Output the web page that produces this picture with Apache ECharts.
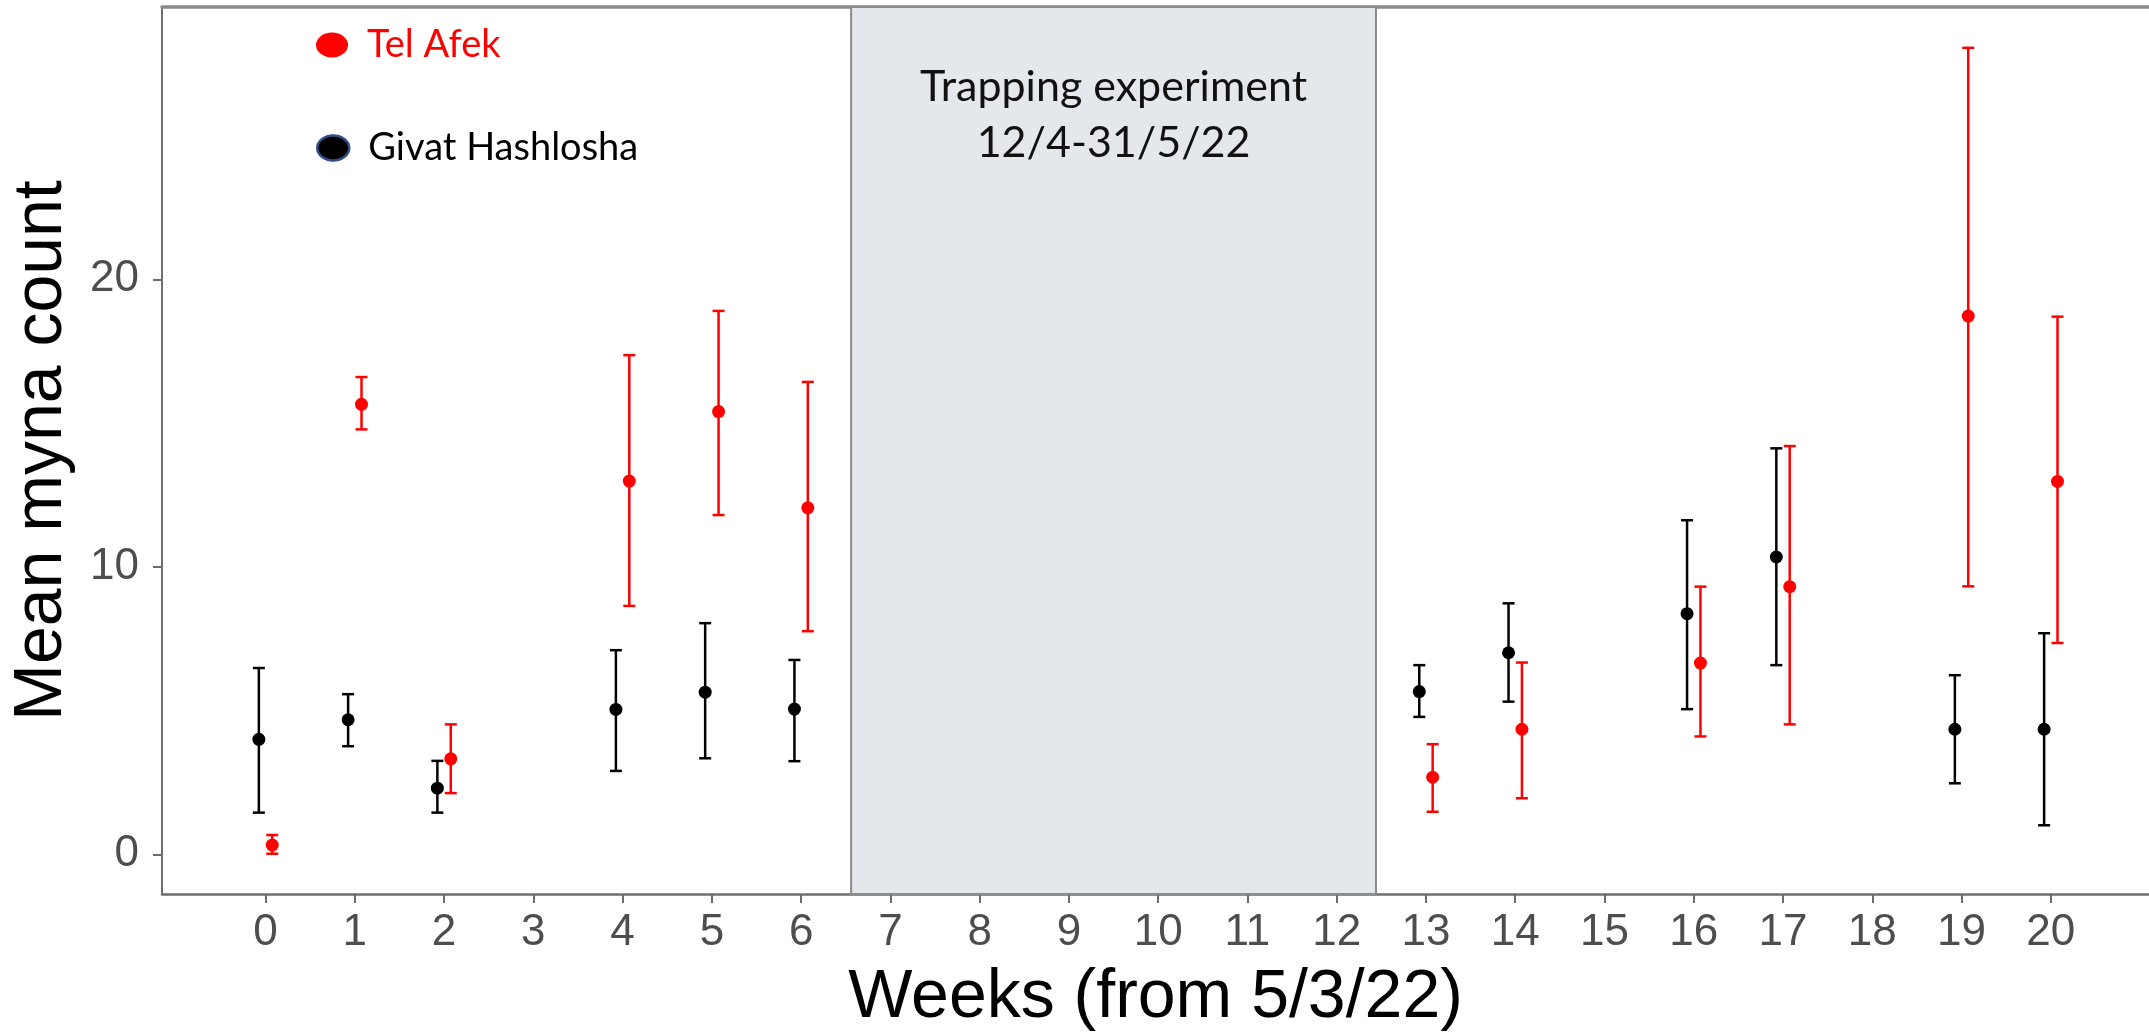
<!DOCTYPE html>
<html>
<head>
<meta charset="utf-8">
<script src="https://cdn.jsdelivr.net/npm/echarts@6/dist/echarts.min.js"></script>
<style>
  html, body { margin: 0; padding: 0; background: #fff; }
  #main { width: 2149px; height: 1035px; }
</style>
</head>
<body>
<div id="main"></div>
<script>
var weeks = [0, 1, 2, 4, 5, 6, 13, 14, 16, 17, 19, 20];

// Tel Afek (red)
var telAfekMean = [0.32, 15.65, 3.32, 12.98, 15.4, 12.05, 2.68, 4.35, 6.65, 9.31, 18.72, 12.97];
var telAfekLow  = [0.02, 14.78, 2.13, 8.64, 11.8, 7.76, 1.48, 1.95, 4.1, 4.52, 9.32, 7.35];
var telAfekHigh = [0.67, 16.6, 4.52, 17.36, 18.9, 16.43, 3.83, 6.67, 9.31, 14.2, 28.05, 18.7];

// Givat Hashlosha (black)
var givatMean = [4.0, 4.68, 2.3, 5.04, 5.64, 5.05, 5.66, 7.01, 8.37, 10.34, 4.35, 4.35];
var givatLow  = [1.45, 3.76, 1.45, 2.9, 3.34, 3.24, 4.78, 5.31, 5.05, 6.58, 2.47, 1.01];
var givatHigh = [6.48, 5.57, 3.25, 7.1, 8.04, 6.76, 6.58, 8.73, 11.62, 14.12, 6.23, 7.69];

var weekTicks = [0, 1, 2, 3, 4, 5, 6, 7, 8, 9, 10, 11, 12, 13, 14, 15, 16, 17, 18, 19, 20];
var countTicks = [0, 10, 20];
var trappingWeeks = [6.56, 12.44];

var DODGE = 0.075;   // side-by-side offset of the two sites
var axisGray = '#6e6e6e';
var labelGray = '#4d4d4d';

function points(mean, shift) {
    return weeks.map(function (w, i) { return [w + shift, mean[i]]; });
}
function bars(lo, hi, shift) {
    return weeks.map(function (w, i) { return [w + shift, lo[i], hi[i]]; });
}

function errorBars(name, color, lo, hi, shift) {
    return {
        name: name,
        type: 'custom',
        data: bars(lo, hi, shift),
        encode: { x: 0, y: [1, 2] },
        renderItem: function (params, api) {
            var x = api.value(0);
            var a = api.coord([x, api.value(1)]);
            var b = api.coord([x, api.value(2)]);
            var hw = 6;
            var st = { stroke: color, lineWidth: 2.5 };
            return {
                type: 'group',
                children: [
                    { type: 'line', shape: { x1: a[0], y1: a[1], x2: b[0], y2: b[1] }, style: st },
                    { type: 'line', shape: { x1: a[0] - hw, y1: a[1], x2: a[0] + hw, y2: a[1] }, style: st },
                    { type: 'line', shape: { x1: b[0] - hw, y1: b[1], x2: b[0] + hw, y2: b[1] }, style: st }
                ]
            };
        },
        z: 3
    };
}

var ellipse = 'path://M0,12.5A16,12.5,0,1,1,32,12.5A16,12.5,0,1,1,0,12.5Z';

var myChart = echarts.init(document.getElementById('main'));

var option = {
    animation: false,
    backgroundColor: '#fff',
    grid: {
        left: 162,
        right: 0,
        top: 7,
        bottom: 141,
        outerBoundsMode: 'none'
    },
    legend: [
        {
            left: 316, top: 26, padding: 0,
            itemWidth: 32, itemHeight: 25,
            data: [{
                name: 'Tel Afek', icon: ellipse,
                itemStyle: { color: '#ff0000', borderWidth: 0 },
                textStyle: { color: '#ff0000' }
            }],
            textStyle: { fontFamily: 'Lato', fontSize: 38, padding: [0, 0, 0, 14] }
        },
        {
            left: 316, top: 129, padding: 0,
            itemWidth: 32, itemHeight: 25,
            data: [{
                name: 'Givat Hashlosha', icon: ellipse,
                itemStyle: { color: '#000', borderColor: '#2f4f86', borderWidth: 2.5 },
                textStyle: { color: '#000' }
            }],
            textStyle: { fontFamily: 'Lato', fontSize: 38, padding: [0, 0, 0, 14] }
        }
    ],
    xAxis: [
        {
            type: 'value',
            min: -1.16,
            max: 21.1,
            name: 'Weeks (from 5/3/22)',
            nameLocation: 'middle',
            nameGap: 70,
            nameTextStyle: { fontFamily: 'Liberation Sans', fontSize: 68, color: '#000' },
            axisLine: { show: true, onZero: false, lineStyle: { color: axisGray, width: 2.5 } },
            axisTick: { show: true, length: 9, customValues: weekTicks, lineStyle: { color: axisGray, width: 2 } },
            axisLabel: {
                customValues: weekTicks,
                margin: 17,
                fontFamily: 'Liberation Sans',
                fontSize: 44,
                color: labelGray
            },
            splitLine: { show: false }
        },
        {
            type: 'value',
            position: 'top',
            min: -1.16,
            max: 21.1,
            axisLine: { show: true, onZero: false, lineStyle: { color: '#8a8a8a', width: 3.5 } },
            axisTick: { show: false },
            axisLabel: { show: false },
            splitLine: { show: false }
        }
    ],
    yAxis: {
        type: 'value',
        min: -1.38,
        max: 29.47,
        name: 'Mean myna count',
        nameLocation: 'middle',
        nameGap: 86,
        nameTextStyle: { fontFamily: 'Liberation Sans', fontSize: 68, color: '#000' },
        axisLine: { show: true, onZero: false, lineStyle: { color: axisGray, width: 2 } },
        axisTick: { show: true, length: 9, customValues: countTicks, lineStyle: { color: axisGray, width: 2 } },
        axisLabel: {
            customValues: countTicks,
            margin: 23,
            fontFamily: 'Liberation Sans',
            fontSize: 44,
            color: labelGray
        },
        splitLine: { show: false }
    },
    series: [
        {
            name: 'Givat Hashlosha',
            type: 'scatter',
            data: points(givatMean, -DODGE),
            symbol: 'circle',
            symbolSize: 13,
            itemStyle: { color: '#000', opacity: 1 },
            z: 4,
            markArea: {
                silent: true,
                itemStyle: { color: '#e4e7ec', borderColor: '#8c8c8c', borderWidth: 2 },
                label: {
                    show: true,
                    position: 'insideTop',
                    distance: 53,
                    formatter: 'Trapping experiment\n12/4-31/5/22',
                    fontFamily: 'Lato',
                    fontSize: 43,
                    lineHeight: 56,
                    color: '#111',
                    align: 'center'
                },
                data: [[{ xAxis: trappingWeeks[0] }, { xAxis: trappingWeeks[1] }]]
            }
        },
        errorBars('Givat Hashlosha', '#000', givatLow, givatHigh, -DODGE),
        {
            name: 'Tel Afek',
            type: 'scatter',
            data: points(telAfekMean, DODGE),
            symbol: 'circle',
            symbolSize: 13,
            itemStyle: { color: '#ff0000', opacity: 1 },
            z: 4
        },
        errorBars('Tel Afek', '#ff0000', telAfekLow, telAfekHigh, DODGE)
    ]
};

myChart.setOption(option);
</script>
</body>
</html>
